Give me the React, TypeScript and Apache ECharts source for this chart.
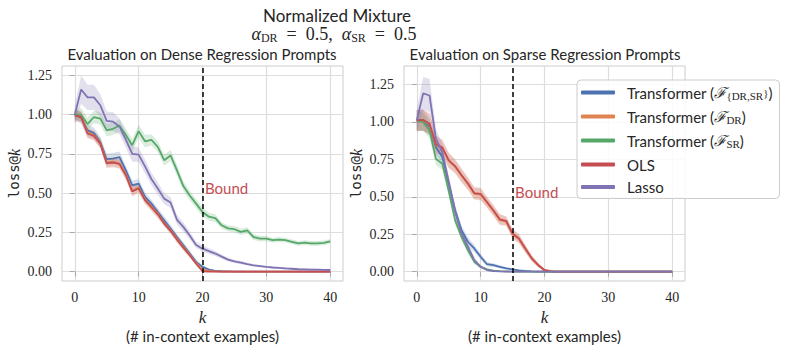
import React, { useEffect, useRef } from "react";
import * as echarts from "echarts";

// ---------- data ----------
const kValues = [0,1,2,3,4,5,6,7,8,9,10,11,12,13,14,15,16,17,18,19,20,21,22,23,24,25,26,27,28,29,30,31,32,33,34,35,36,37,38,39,40];
const xTicks = [0, 10, 20, 30, 40];
const yTicks = [0, 0.25, 0.5, 0.75, 1.0, 1.25];
const seriesNames = [
  "Transformer (ℱ{DR,SR})",
  "Transformer (ℱDR)",
  "Transformer (ℱSR)",
  "OLS",
  "Lasso",
];
const colors = ["#4c72b0", "#dd8452", "#55a868", "#c44e52", "#8172b3"];
const panelTitles = ["Evaluation on Dense Regression Prompts", "Evaluation on Sparse Regression Prompts"];
const boundK = [20, 15];
const boundLabelY = [0.535, 0.535];
const yMin = [-0.06, -0.062];
const yMax = [1.31, 1.373];

// Dense panel (left)
const lBlue = [1.0,0.98,0.90,0.883,0.826,0.716,0.72,0.73,0.645,0.55,
  0.56,0.476,0.433,0.38,0.327,0.274,0.22,0.168,0.115,0.062,
  0.03,0.013,0.005,0.002,0.001,0,0,0,0,0,
  0,0,0,0,0,0,0,0,0,0,
  0];
const lOrange = [1.0,0.99,0.885,0.87,0.82,0.695,0.70,0.69,0.62,0.515,
  0.535,0.46,0.415,0.37,0.31,0.265,0.21,0.158,0.108,0.055,
  0.012,0.004,0.001,0,0,0,0,0,0,0,
  0,0,0,0,0,0,0,0,0,0,
  0];
const lGreen = [1.0,1.0,0.94,0.985,0.975,0.9,0.91,0.93,0.87,0.805,
  0.895,0.83,0.84,0.795,0.71,0.74,0.645,0.545,0.485,0.433,
  0.38,0.35,0.34,0.295,0.275,0.27,0.253,0.263,0.22,0.21,
  0.21,0.2,0.204,0.2,0.19,0.18,0.185,0.18,0.18,0.183,
  0.193];
const lRed = [0.995,0.985,0.88,0.865,0.815,0.69,0.695,0.685,0.614,0.51,
  0.53,0.455,0.41,0.365,0.306,0.26,0.204,0.153,0.104,0.05,
  0.002,0,0,0,0,0,0,0,0,0,
  0,0,0,0,0,0,0,0,0,0,
  0];
const lPurple = [1.0,1.16,1.11,1.11,1.06,0.96,0.955,0.925,0.84,0.75,
  0.745,0.67,0.59,0.53,0.465,0.44,0.33,0.285,0.23,0.17,
  0.146,0.13,0.115,0.095,0.076,0.065,0.057,0.048,0.04,0.035,
  0.03,0.026,0.023,0.02,0.018,0.015,0.014,0.013,0.012,0.011,
  0.01];

// Dense panel band half-widths
const lBlueBand = [0.03,0.035,0.035,0.035,0.035,0.035,0.035,0.035,0.03,0.03,
  0.03,0.03,0.025,0.025,0.025,0.025,0.02,0.02,0.02,0.015,
  0.01,0.006,0.003,0.002,0.001,0,0,0,0,0,
  0,0,0,0,0,0,0,0,0,0,
  0];
const lOrangeBand = [0.03,0.03,0.03,0.03,0.03,0.03,0.03,0.03,0.03,0.03,
  0.03,0.025,0.025,0.025,0.02,0.02,0.02,0.02,0.015,0.01,
  0.006,0.003,0.001,0,0,0,0,0,0,0,
  0,0,0,0,0,0,0,0,0,0,
  0];
const lGreenBand = [0.035,0.04,0.04,0.04,0.04,0.04,0.04,0.04,0.04,0.04,
  0.04,0.04,0.035,0.035,0.035,0.035,0.035,0.03,0.03,0.03,
  0.03,0.025,0.025,0.02,0.02,0.02,0.02,0.02,0.018,0.018,
  0.016,0.016,0.016,0.015,0.015,0.015,0.015,0.015,0.015,0.015,
  0.015];
const lRedBand = [0.04,0.035,0.03,0.03,0.03,0.03,0.03,0.03,0.03,0.03,
  0.03,0.025,0.025,0.025,0.02,0.02,0.02,0.02,0.015,0.01,
  0.003,0,0,0,0,0,0,0,0,0,
  0,0,0,0,0,0,0,0,0,0,
  0];
const lPurpleBand = [0.06,0.09,0.08,0.08,0.07,0.06,0.06,0.05,0.05,0.05,
  0.045,0.045,0.04,0.04,0.035,0.035,0.03,0.03,0.025,0.02,
  0.02,0.018,0.016,0.014,0.012,0.01,0.01,0.008,0.008,0.007,
  0.006,0.006,0.006,0.006,0.006,0.006,0.006,0.006,0.006,0.006,
  0.006];

// Sparse panel (right)
const rBlue = [1.01,1.013,0.967,0.83,0.767,0.59,0.41,0.278,0.2,0.155,
  0.1,0.05,0.044,0.033,0.022,0.016,0.009,0.005,0.002,0.001,
  0,0,0,0,0,0,0,0,0,0,
  0,0,0,0,0,0,0,0,0,0,
  0];
const rOrange = [1.005,1.01,0.98,0.845,0.825,0.74,0.70,0.64,0.585,0.52,
  0.515,0.46,0.405,0.345,0.335,0.25,0.218,0.152,0.088,0.044,
  0.012,0.004,0.001,0,0,0,0,0,0,0,
  0,0,0,0,0,0,0,0,0,0,
  0];
const rGreen = [1.01,0.998,0.942,0.753,0.72,0.54,0.344,0.233,0.144,0.067,
  0.033,0.016,0.007,0.004,0.002,0.001,0,0,0,0,
  0,0,0,0,0,0,0,0,0,0,
  0,0,0,0,0,0,0,0,0,0,
  0];
const rRed = [1.01,1.013,0.987,0.85,0.83,0.745,0.705,0.645,0.59,0.525,
  0.52,0.465,0.41,0.35,0.34,0.255,0.222,0.155,0.09,0.045,
  0.01,0.002,0,0,0,0,0,0,0,0,
  0,0,0,0,0,0,0,0,0,0,
  0];
const rPurple = [1.01,1.19,1.176,0.887,0.798,0.6,0.4,0.256,0.167,0.078,
  0.033,0.011,0.004,0.002,0.001,0,0,0,0,0,
  0,0,0,0,0,0,0,0,0,0,
  0,0,0,0,0,0,0,0,0,0,
  0];

// Sparse panel band half-widths
const rBlueBand = [0.07,0.07,0.05,0.05,0.04,0.04,0.035,0.03,0.03,0.025,
  0.02,0.015,0.012,0.01,0.008,0.006,0.004,0.003,0.002,0.001,
  0,0,0,0,0,0,0,0,0,0,
  0,0,0,0,0,0,0,0,0,0,
  0];
const rOrangeBand = [0.07,0.07,0.07,0.06,0.05,0.05,0.045,0.045,0.04,0.04,
  0.04,0.035,0.035,0.035,0.03,0.03,0.03,0.025,0.02,0.015,
  0.008,0.003,0.001,0,0,0,0,0,0,0,
  0,0,0,0,0,0,0,0,0,0,
  0];
const rGreenBand = [0.07,0.06,0.05,0.04,0.04,0.035,0.03,0.025,0.02,0.015,
  0.01,0.008,0.005,0.003,0.002,0.001,0,0,0,0,
  0,0,0,0,0,0,0,0,0,0,
  0,0,0,0,0,0,0,0,0,0,
  0];
const rRedBand = [0.07,0.07,0.07,0.06,0.05,0.05,0.045,0.045,0.04,0.04,
  0.04,0.035,0.035,0.035,0.03,0.03,0.03,0.025,0.02,0.015,
  0.008,0.003,0.001,0,0,0,0,0,0,0,
  0,0,0,0,0,0,0,0,0,0,
  0];
const rPurpleBand = [0.07,0.11,0.11,0.07,0.05,0.045,0.04,0.035,0.03,0.02,
  0.012,0.006,0.003,0.002,0.001,0,0,0,0,0,
  0,0,0,0,0,0,0,0,0,0,
  0,0,0,0,0,0,0,0,0,0,
  0];

const panelValues = [
  [lBlue, lOrange, lGreen, lRed, lPurple],
  [rBlue, rOrange, rGreen, rRed, rPurple],
];
const panelBands = [
  [lBlueBand, lOrangeBand, lGreenBand, lRedBand, lPurpleBand],
  [rBlueBand, rOrangeBand, rGreenBand, rRedBand, rPurpleBand],
];

// ---------- styling ----------
const SANS = "Lato";
const SERIF = "Liberation Serif";
const MONO = "DejaVu Sans Mono";
const TXT = "#262626";

const legendRich: Record<string, string> = {
  [seriesNames[0]]: "{a|Transformer (}{f|ℱ}{s|{DR,SR}}{t|)}",
  [seriesNames[1]]: "{a|Transformer (}{f|ℱ}{s|DR}{t|)}",
  [seriesNames[2]]: "{a|Transformer (}{f|ℱ}{s|SR}{t|)}",
  [seriesNames[3]]: "{a|OLS}",
  [seriesNames[4]]: "{a|Lasso}",
};

function bandSeries(p: number, i: number) {
  const vals = panelValues[p][i];
  const band = panelBands[p][i];
  const data = kValues.map((k, j) => [k, vals[j] - band[j], vals[j] + band[j]]);
  return {
    name: `${seriesNames[i]} band ${p}`,
    type: "custom",
    xAxisIndex: p,
    yAxisIndex: p,
    silent: true,
    clip: true,
    z: 1,
    data,
    encode: { x: 0, y: [1, 2] },
    renderItem: (params: any, api: any) => {
      if (params.dataIndex !== 0) return null;
      const upper = data.map((d) => api.coord([d[0], d[2]]));
      const lower = data.map((d) => api.coord([d[0], d[1]])).reverse();
      return {
        type: "polygon",
        shape: { points: upper.concat(lower) },
        style: { fill: colors[i], opacity: 0.22 },
      };
    },
  };
}

function buildOption() {
  const grids = [0, 1].map((p) => ({
    left: p === 0 ? 62 : 404,
    top: 66,
    width: 281,
    height: 215,
    show: true,
    borderColor: "#cccccc",
    borderWidth: 1,
    containLabel: false,
  }));

  const xAxes = [0, 1].map((p) => ({
    gridIndex: p,
    type: "value",
    min: -2,
    max: 42,
    axisLine: { show: false },
    axisTick: { show: true, length: 5, lineStyle: { color: "#aaaaaa" }, customValues: xTicks },
    axisLabel: { customValues: xTicks, margin: 9, fontFamily: SERIF, fontSize: 14, color: TXT },
    splitLine: { show: true, lineStyle: { color: "#dddddd", width: 1.2 } },
    name: "{k|k}\n{t|(# in-context examples)}",
    nameLocation: "middle",
    nameGap: 24,
    nameTextStyle: {
      color: TXT,
      rich: {
        k: { fontFamily: SERIF, fontStyle: "italic", fontSize: 17, lineHeight: 19, color: TXT },
        t: { fontFamily: SANS, fontSize: 15, lineHeight: 19, color: TXT },
      },
    },
  }));

  const yAxes = [0, 1].map((p) => ({
    gridIndex: p,
    type: "value",
    min: yMin[p],
    max: yMax[p],
    axisLine: { show: false },
    axisTick: { show: true, length: 5, lineStyle: { color: "#aaaaaa" }, customValues: yTicks },
    axisLabel: {
      customValues: yTicks,
      margin: 10,
      fontFamily: SERIF,
      fontSize: 14,
      color: TXT,
      formatter: (v: number) => v.toFixed(2),
    },
    splitLine: { show: true, lineStyle: { color: "#dddddd", width: 1.2 } },
    name: "{m|loss@}{k|k}",
    nameLocation: "middle",
    nameGap: 40,
    nameTextStyle: {
      color: TXT,
      rich: {
        m: { fontFamily: MONO, fontSize: 14, color: TXT },
        k: { fontFamily: SERIF, fontStyle: "italic", fontSize: 16, color: TXT },
      },
    },
  }));

  const series: any[] = [];
  for (let p = 0; p < 2; p++) {
    for (let i = 0; i < 5; i++) series.push(bandSeries(p, i));
  }
  for (let p = 0; p < 2; p++) {
    for (let i = 0; i < 5; i++) {
      const vals = panelValues[p][i];
      const s: any = {
        name: seriesNames[i],
        type: "line",
        xAxisIndex: p,
        yAxisIndex: p,
        symbol: "none",
        showSymbol: false,
        lineStyle: { color: colors[i], width: 1.8 },
        itemStyle: { color: colors[i] },
        data: kValues.map((k, j) => [k, vals[j]]),
        z: 3,
      };
      if (i === 4) {
        s.markLine = {
          silent: true,
          symbol: ["none", "none"],
          label: { show: false },
          lineStyle: { color: "#000000", type: [5, 3], width: 1.5 },
          data: [{ xAxis: boundK[p] }],
        };
        s.markPoint = {
          silent: true,
          data: [
            {
              coord: [boundK[p], boundLabelY[p]],
              symbol: "circle",
              symbolSize: 1,
              itemStyle: { color: "rgba(0,0,0,0)" },
              label: {
                show: true,
                position: "right",
                distance: 2,
                formatter: "Bound",
                color: "#c44e52",
                fontFamily: SANS,
                fontSize: 15,
              },
            },
          ],
        };
      }
      series.push(s);
    }
  }

  return {
    animation: false,
    backgroundColor: "#ffffff",
    grid: grids,
    xAxis: xAxes,
    yAxis: yAxes,
    legend: {
      data: seriesNames,
      orient: "vertical",
      left: 577,
      top: 80,
      padding: [5, 7, 4, 4],
      itemWidth: 34,
      itemHeight: 4,
      itemGap: 7.5,
      icon: "roundRect",
      selectedMode: false,
      backgroundColor: "rgba(255,255,255,0.85)",
      borderColor: "#cccccc",
      borderWidth: 1,
      borderRadius: 4,
      formatter: (name: string) => legendRich[name] || name,
      textStyle: {
        fontFamily: SERIF,
        fontSize: 11,
        color: TXT,
        rich: {
          a: { fontFamily: SANS, fontSize: 15, lineHeight: 18, color: TXT, padding: [0, 0, 0, 7] },
          t: { fontFamily: SANS, fontSize: 15, lineHeight: 18, color: TXT },
          f: { fontFamily: SERIF, fontStyle: "italic", fontSize: 15, lineHeight: 18, color: TXT },
          s: { fontFamily: SERIF, fontSize: 11, lineHeight: 11, verticalAlign: "bottom", color: TXT },
        },
      },
    },
    graphic: [
      {
        type: "text",
        x: 337,
        y: 15,
        style: { text: "Normalized Mixture", fontFamily: SANS, fontSize: 17, fill: TXT, align: "center", verticalAlign: "middle" },
      },
      {
        type: "text",
        x: 334,
        y: 34,
        style: {
          text: "{a|α}{s|DR}{n|  =  0.5,  }{a|α}{s|SR}{n|  =  0.5}",
          align: "center",
          verticalAlign: "middle",
          fill: TXT,
          rich: {
            a: { fontFamily: SERIF, fontStyle: "italic", fontSize: 18, lineHeight: 20, fill: TXT, color: TXT },
            s: { fontFamily: SERIF, fontSize: 12, lineHeight: 12, verticalAlign: "bottom", fill: TXT, color: TXT },
            n: { fontFamily: SERIF, fontSize: 18, lineHeight: 20, fill: TXT, color: TXT },
          },
        },
      },
      {
        type: "text",
        x: 202,
        y: 54,
        style: { text: panelTitles[0], fontFamily: SANS, fontSize: 15, fill: TXT, align: "center", verticalAlign: "middle" },
      },
      {
        type: "text",
        x: 545,
        y: 54,
        style: { text: panelTitles[1], fontFamily: SANS, fontSize: 15, fill: TXT, align: "center", verticalAlign: "middle" },
      },
    ],
    series,
  };
}

export default function App() {
  const ref = useRef<HTMLDivElement>(null);
  useEffect(() => {
    if (!ref.current) return;
    const chart = echarts.init(ref.current, null, { renderer: "svg" });
    chart.setOption(buildOption() as any);
    return () => chart.dispose();
  }, []);
  return (
    <div
      ref={ref}
      style={{ position: "absolute", left: 0, top: 0, width: 789, height: 350, background: "#ffffff" }}
    />
  );
}
